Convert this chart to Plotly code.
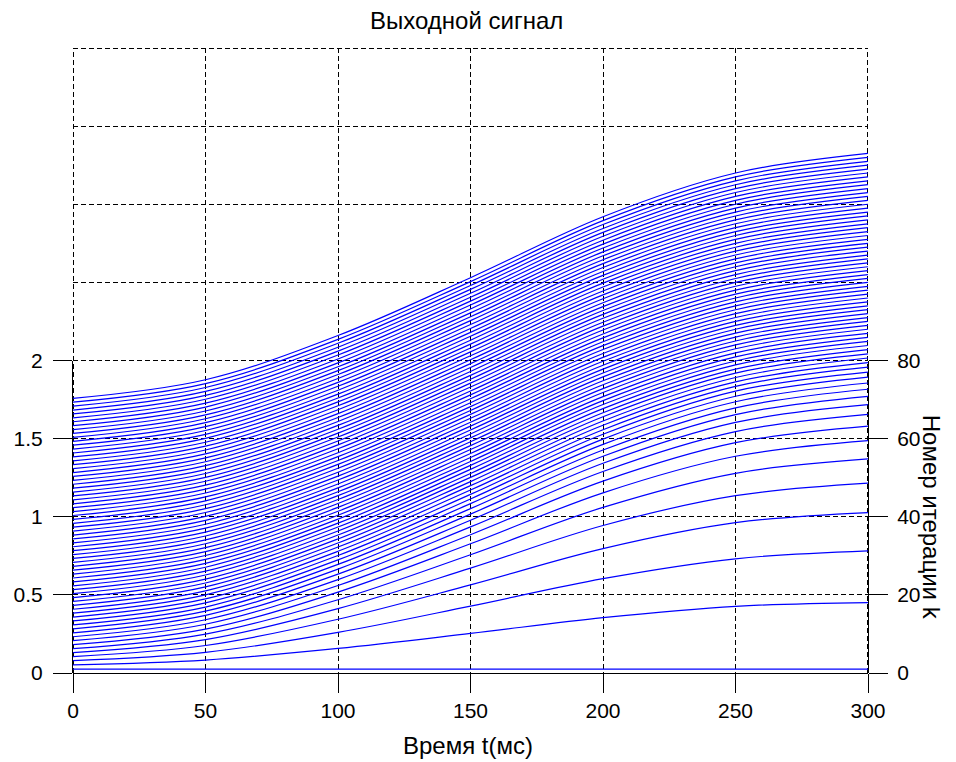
import plotly.graph_objects as go

# ---------------- data ----------------
t_ms = [0, 50, 100, 150, 200, 250, 300]          # time samples, ms
iterations = list(range(1, 71))                   # iteration number k

# output signal of iteration k at each sample time (before stacking by k)
sig_t000 = [0.000, 0.002, 0.004, 0.005, 0.006, 0.006, 0.007, 0.007, 0.007, 0.007,
            0.008, 0.008, 0.008, 0.008, 0.008, 0.008, 0.008, 0.008, 0.008, 0.008,
            0.008, 0.008, 0.008, 0.008, 0.008, 0.008, 0.008, 0.008, 0.008, 0.008,
            0.008, 0.008, 0.008, 0.008, 0.008, 0.008, 0.008, 0.008, 0.008, 0.008,
            0.008, 0.008, 0.008, 0.008, 0.008, 0.008, 0.008, 0.008, 0.008, 0.008,
            0.008, 0.008, 0.008, 0.008, 0.008, 0.008, 0.008, 0.008, 0.008, 0.008,
            0.008, 0.008, 0.008, 0.008, 0.008, 0.008, 0.008, 0.008, 0.008, 0.008]
sig_t050 = [0.000, 0.033, 0.057, 0.076, 0.089, 0.099, 0.106, 0.112, 0.116, 0.119,
            0.121, 0.122, 0.124, 0.124, 0.125, 0.126, 0.126, 0.126, 0.126, 0.127,
            0.127, 0.127, 0.127, 0.127, 0.127, 0.127, 0.127, 0.127, 0.127, 0.127,
            0.127, 0.127, 0.127, 0.127, 0.127, 0.127, 0.127, 0.127, 0.127, 0.127,
            0.127, 0.127, 0.127, 0.127, 0.127, 0.127, 0.127, 0.127, 0.127, 0.127,
            0.127, 0.127, 0.127, 0.127, 0.127, 0.127, 0.127, 0.127, 0.127, 0.127,
            0.127, 0.127, 0.127, 0.127, 0.127, 0.127, 0.127, 0.127, 0.127, 0.127]
sig_t100 = [0.000, 0.107, 0.185, 0.244, 0.287, 0.319, 0.343, 0.360, 0.373, 0.383,
            0.390, 0.395, 0.399, 0.402, 0.404, 0.406, 0.407, 0.408, 0.408, 0.409,
            0.409, 0.409, 0.410, 0.410, 0.410, 0.410, 0.410, 0.410, 0.410, 0.410,
            0.410, 0.410, 0.410, 0.410, 0.410, 0.410, 0.410, 0.410, 0.410, 0.410,
            0.410, 0.410, 0.410, 0.410, 0.410, 0.410, 0.410, 0.410, 0.410, 0.410,
            0.410, 0.410, 0.410, 0.410, 0.410, 0.410, 0.410, 0.410, 0.410, 0.410,
            0.410, 0.410, 0.410, 0.410, 0.410, 0.410, 0.410, 0.410, 0.410, 0.410]
sig_t150 = [0.000, 0.203, 0.353, 0.464, 0.546, 0.607, 0.652, 0.685, 0.710, 0.728,
            0.742, 0.752, 0.759, 0.764, 0.768, 0.771, 0.774, 0.775, 0.777, 0.777,
            0.778, 0.779, 0.779, 0.779, 0.780, 0.780, 0.780, 0.780, 0.780, 0.780,
            0.780, 0.780, 0.780, 0.780, 0.780, 0.780, 0.780, 0.780, 0.780, 0.780,
            0.780, 0.780, 0.780, 0.780, 0.780, 0.780, 0.780, 0.780, 0.780, 0.780,
            0.780, 0.780, 0.780, 0.780, 0.780, 0.780, 0.780, 0.780, 0.780, 0.780,
            0.780, 0.780, 0.780, 0.780, 0.780, 0.780, 0.780, 0.780, 0.780, 0.780]
sig_t200 = [0.000, 0.304, 0.529, 0.696, 0.819, 0.910, 0.978, 1.028, 1.065, 1.092,
            1.112, 1.127, 1.138, 1.147, 1.153, 1.157, 1.161, 1.163, 1.165, 1.166,
            1.167, 1.168, 1.168, 1.169, 1.170, 1.170, 1.170, 1.170, 1.170, 1.170,
            1.170, 1.170, 1.170, 1.170, 1.170, 1.170, 1.170, 1.170, 1.170, 1.170,
            1.170, 1.170, 1.170, 1.170, 1.170, 1.170, 1.170, 1.170, 1.170, 1.170,
            1.170, 1.170, 1.170, 1.170, 1.170, 1.170, 1.170, 1.170, 1.170, 1.170,
            1.170, 1.170, 1.170, 1.170, 1.170, 1.170, 1.170, 1.170, 1.170, 1.170]
sig_t250 = [0.000, 0.377, 0.656, 0.862, 1.010, 1.128, 1.212, 1.274, 1.320, 1.354,
            1.379, 1.397, 1.411, 1.421, 1.429, 1.434, 1.438, 1.441, 1.444, 1.445,
            1.447, 1.447, 1.448, 1.449, 1.450, 1.450, 1.450, 1.450, 1.450, 1.450,
            1.450, 1.450, 1.450, 1.450, 1.450, 1.450, 1.450, 1.450, 1.450, 1.450,
            1.450, 1.450, 1.450, 1.450, 1.450, 1.450, 1.450, 1.450, 1.450, 1.450,
            1.450, 1.450, 1.450, 1.450, 1.450, 1.450, 1.450, 1.450, 1.450, 1.450,
            1.450, 1.450, 1.450, 1.450, 1.450, 1.450, 1.450, 1.450, 1.450, 1.450]
sig_t300 = [0.000, 0.401, 0.707, 0.927, 1.090, 1.220, 1.312, 1.380, 1.430, 1.467,
            1.496, 1.516, 1.531, 1.543, 1.551, 1.557, 1.562, 1.566, 1.568, 1.570,
            1.571, 1.572, 1.573, 1.573, 1.575, 1.575, 1.575, 1.575, 1.575, 1.575,
            1.575, 1.575, 1.575, 1.575, 1.575, 1.575, 1.575, 1.575, 1.575, 1.575,
            1.575, 1.575, 1.575, 1.575, 1.575, 1.575, 1.575, 1.575, 1.575, 1.575,
            1.575, 1.575, 1.575, 1.575, 1.575, 1.575, 1.575, 1.575, 1.575, 1.575,
            1.575, 1.575, 1.575, 1.575, 1.575, 1.575, 1.575, 1.575, 1.575, 1.575]

x_ticks = [0, 50, 100, 150, 200, 250, 300]
left_ticks = [0, 0.5, 1, 1.5, 2]
left_tick_text = ["0", "0.5", "1", "1.5", "2"]
right_ticks = [0, 20, 40, 60, 80]
grid_levels = [0, 0.5, 1, 1.5, 2, 2.5, 3, 3.5, 4]

TITLE = "Выходной сигнал"
X_LABEL = "Время t(мс)"
RIGHT_LABEL = "Номер итерации k"

# ---------------- figure ----------------
ITER_PER_UNIT = 40.0   # right axis: 80 iterations per 2 units of the left axis
columns = [sig_t000, sig_t050, sig_t100, sig_t150, sig_t200, sig_t250, sig_t300]

fig = go.Figure()
for i, k in enumerate(iterations):
    ys = [k / ITER_PER_UNIT + col[i] for col in columns]
    fig.add_trace(go.Scatter(
        x=t_ms, y=ys, mode="lines",
        line=dict(color="#0000ff", width=1.2, shape="spline", smoothing=1.0),
        showlegend=False, hoverinfo="skip",
    ))

# empty traces to register the tick-only axes
fig.add_trace(go.Scatter(x=[], y=[], xaxis="x2", yaxis="y2", showlegend=False, hoverinfo="skip"))
fig.add_trace(go.Scatter(x=[], y=[], xaxis="x2", yaxis="y3", showlegend=False, hoverinfo="skip"))

FONT = "Liberation Sans, Arial, sans-serif"
DASH = "5px,3px"

# page body has an 8px margin: figure sits at (8, 8) in the 956x762 window
W, H = 940, 754
PL, PR, PT, PB = 73, 868, 48, 673          # target plot-area edges in window pixels
ml, mt = PL - 8, PT - 8
mr, mb = 8 + W - PR, 8 + H - PB

def fx(px):   # window x pixel -> paper x
    return (px - PL) / (PR - PL)

def fy(py):   # window y pixel -> paper y
    return (PB - py) / (PB - PT)

fig.update_layout(
    width=W, height=H,
    margin=dict(l=ml, r=mr, t=mt, b=mb, autoexpand=False),
    paper_bgcolor="white", plot_bgcolor="rgba(0,0,0,0)",
    font=dict(family=FONT, size=21, color="black"),
    showlegend=False,
    xaxis=dict(range=[x_ticks[0], x_ticks[-1]], tickvals=x_ticks, ticks="outside",
               ticklen=19, tickwidth=1, tickcolor="black", showline=True,
               linecolor="black", linewidth=1, showgrid=True, gridcolor="black",
               gridwidth=1, griddash=DASH, zeroline=False, tickfont=dict(size=21),
               fixedrange=True),
    yaxis=dict(range=[grid_levels[0], grid_levels[-1]], tickvals=grid_levels,
               showticklabels=False, ticks="", showline=False, showgrid=True,
               gridcolor="black", gridwidth=1, griddash=DASH, zeroline=False,
               fixedrange=True),
    xaxis2=dict(range=[x_ticks[0], x_ticks[-1]], anchor="y2", visible=False,
                fixedrange=True),
    yaxis2=dict(domain=[0, 0.5], range=[left_ticks[0], left_ticks[-1]], anchor="x2",
                tickvals=left_ticks, ticktext=left_tick_text, ticks="outside",
                ticklen=19, tickwidth=1, tickcolor="black", showline=True,
                linecolor="black", linewidth=1, showgrid=False, zeroline=False,
                ticklabelstandoff=6, tickfont=dict(size=21), fixedrange=True),
    yaxis3=dict(range=[right_ticks[0], right_ticks[-1]], overlaying="y2", side="right",
                anchor="x2", tickvals=right_ticks, ticks="outside", ticklen=19,
                tickwidth=1, tickcolor="black", showline=True, linecolor="black",
                linewidth=1, showgrid=False, zeroline=False, ticklabelstandoff=5,
                tickfont=dict(size=21), fixedrange=True),
)

# grid lines on the edges of the grid box (plotly drops edge grid lines);
# nudged half a pixel inward so the 1px dashes land on a pixel column/row
half_px_x = 0.5 * (x_ticks[-1] - x_ticks[0]) / (PR - PL)
half_px_y = 0.5 * (grid_levels[-1] - grid_levels[0]) / (PB - PT)
edge_line = dict(color="black", width=1, dash=DASH)
fig.add_shape(type="line", xref="x", yref="y", layer="below", line=edge_line,
              x0=x_ticks[0] + half_px_x, x1=x_ticks[0] + half_px_x,
              y0=grid_levels[0], y1=grid_levels[-1])
fig.add_shape(type="line", xref="x", yref="y", layer="below", line=edge_line,
              x0=x_ticks[-1] - half_px_x, x1=x_ticks[-1] - half_px_x,
              y0=grid_levels[0], y1=grid_levels[-1])
fig.add_shape(type="line", xref="x", yref="y", layer="below", line=edge_line,
              x0=x_ticks[0], x1=x_ticks[-1],
              y0=grid_levels[-1] - half_px_y, y1=grid_levels[-1] - half_px_y)

fig.add_annotation(text=TITLE, xref="paper", yref="paper",
                   x=fx(466), y=fy(20), xanchor="center", yanchor="middle",
                   showarrow=False, font=dict(size=24, family=FONT, color="black"))
fig.add_annotation(text=X_LABEL, xref="paper", yref="paper",
                   x=fx(468), y=fy(745), xanchor="center", yanchor="middle",
                   showarrow=False, font=dict(size=24, family=FONT, color="black"))
fig.add_annotation(text=RIGHT_LABEL, xref="paper", yref="paper",
                   x=fx(931), y=0.25, textangle=90,
                   xanchor="center", yanchor="middle", showarrow=False,
                   font=dict(size=24, family=FONT, color="black"))

fig.write_html("out.html")
